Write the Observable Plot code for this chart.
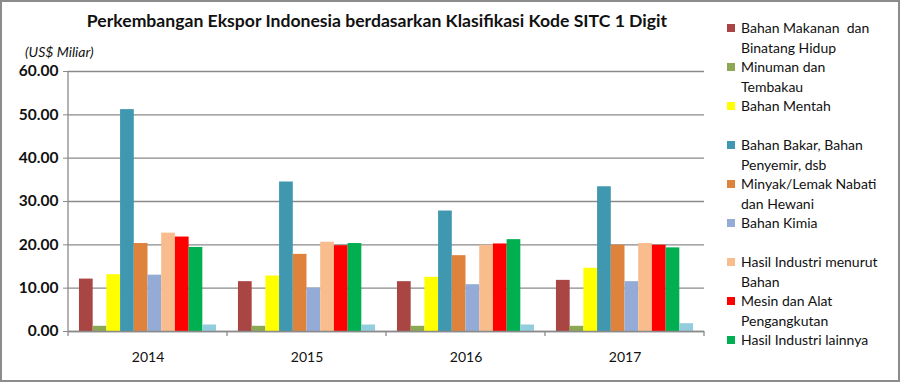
<!DOCTYPE html>
<html>
<head>
<meta charset="utf-8">
<script src="https://cdn.jsdelivr.net/npm/d3@7"></script>
<script src="https://cdn.jsdelivr.net/npm/@observablehq/plot@0.6"></script>
<style>
  html, body { margin: 0; padding: 0; background: #fff; }
  #frame { position: relative; width: 896px; height: 378px; border: 2px solid #8c8c8c; overflow: hidden; font-family: Lato, "Open Sans", sans-serif; }
  #title { position: absolute; left: 0; width: 750px; top: 8px; text-align: center; font-weight: 700; font-size: 17.6px; color: #111; }
  #unit { position: absolute; left: 23px; top: 42px; font-style: italic; font-size: 14px; line-height: 16px; color: #111; }
  #chart { position: absolute; left: -2px; top: 38px; }
  #legend { position: absolute; left: 725px; top: 16px; font-size: 14px; color: #111; }
  .item { position: relative; height: 39px; padding-left: 14px; line-height: 19.5px; }
  .sw { position: absolute; left: 0; top: 6px; width: 8px; height: 8px; }
</style>
</head>
<body>
<div id="frame">
  <div id="title"></div>
  <div id="unit"></div>
  <div id="chart"></div>
  <div id="legend"></div>
</div>
<script>
const titleText = "Perkembangan Ekspor Indonesia berdasarkan Klasifikasi Kode SITC 1 Digit";
const unitText = "(US$ Miliar)";
const years = ["2014", "2015", "2016", "2017"];
const series = [
  "Bahan Makanan dan Binatang Hidup",
  "Minuman dan Tembakau",
  "Bahan Mentah",
  "Bahan Bakar, Bahan Penyemir, dsb",
  "Minyak/Lemak Nabati dan Hewani",
  "Bahan Kimia",
  "Hasil Industri menurut Bahan",
  "Mesin dan Alat Pengangkutan",
  "Hasil Industri lainnya",
  "Lainnya"
];
const legendLines = [
  ["Bahan Makanan  dan", "Binatang Hidup"],
  ["Minuman dan", "Tembakau"],
  ["Bahan Mentah"],
  ["Bahan Bakar, Bahan", "Penyemir, dsb"],
  ["Minyak/Lemak Nabati", "dan Hewani"],
  ["Bahan Kimia"],
  ["Hasil Industri menurut", "Bahan"],
  ["Mesin dan Alat", "Pengangkutan"],
  ["Hasil Industri lainnya"]
];
const v2014 = [12.1, 1.2, 13.1, 51.2, 20.3, 13.0, 22.7, 21.8, 19.4, 1.5];
const v2015 = [11.5, 1.2, 12.8, 34.5, 17.8, 10.0, 20.6, 19.8, 20.3, 1.5];
const v2016 = [11.5, 1.2, 12.5, 27.8, 17.5, 10.8, 19.9, 20.2, 21.2, 1.5];
const v2017 = [11.8, 1.2, 14.6, 33.4, 19.9, 11.5, 20.3, 19.9, 19.3, 1.8];
const yTicks = [0, 10, 20, 30, 40, 50, 60];
const colors = ["#A94542", "#8DA852", "#FFFF00", "#3F97B0", "#DE823C", "#93ABD6", "#F9BC8C", "#FF0000", "#00B050", "#93CCDD"];

const valuesByYear = [v2014, v2015, v2016, v2017];
const data = years.flatMap((yr, i) => series.map((s, j) => ({year: yr, series: s, value: valuesByYear[i][j]})));

document.getElementById("title").textContent = titleText;
document.getElementById("unit").textContent = unitText;

const gray = "#8a8a8a";
const chart = Plot.plot({
  width: 720,
  height: 340,
  marginLeft: 68,
  marginRight: 16,
  marginTop: 31,
  marginBottom: 49,
  style: {fontFamily: "Lato, 'Open Sans', sans-serif", fontSize: "14px", color: "#111", background: "transparent"},
  fx: {domain: years, padding: 0, label: null, round: false},
  x: {domain: series, paddingInner: 0, paddingOuter: 0.8, axis: null, round: false},
  y: {domain: [0, 60], label: null},
  color: {domain: series, range: colors},
  marks: [
    Plot.gridY(yTicks, {stroke: gray, strokeOpacity: 1, strokeWidth: 1.3}),
    Plot.barY(data, {fx: "year", x: "series", y: "value", fill: "series", inset: 0}),
    Plot.ruleY([0], {stroke: gray, strokeWidth: 1.3}),
    Plot.axisY(yTicks, {tickFormat: d3.format(".2f"), tickSize: 5, tickPadding: 5, stroke: gray, fontWeight: "bold", fontSize: 15.5, label: null}),
    Plot.axisFx({anchor: "bottom", tickSize: 0, tickPadding: 21, fontSize: 14, label: null})
  ]
});

// axis line and category-boundary ticks derived from the plot's scales
const fx = chart.scale("fx");
const ys = chart.scale("y");
const svg = d3.select(chart);
const x0 = fx.apply(years[0]);
const boundaries = years.map(yr => fx.apply(yr)).concat([fx.apply(years[years.length - 1]) + fx.bandwidth]);
svg.append("line").attr("x1", x0).attr("x2", x0).attr("y1", ys.apply(60)).attr("y2", ys.apply(0)).attr("stroke", gray).attr("stroke-width", 1.3);
svg.append("g").selectAll("line").data(boundaries).join("line")
  .attr("x1", d => d).attr("x2", d => d)
  .attr("y1", ys.apply(0)).attr("y2", ys.apply(0) + 5)
  .attr("stroke", gray).attr("stroke-width", 1.3);

document.getElementById("chart").appendChild(chart);

const legend = d3.select("#legend");
legendLines.forEach((lines, i) => {
  const it = legend.append("div").attr("class", "item");
  it.append("div").attr("class", "sw").style("background", colors[i]);
  lines.forEach(l => it.append("div").style("white-space", "pre").text(l));
});
</script>
</body>
</html>
